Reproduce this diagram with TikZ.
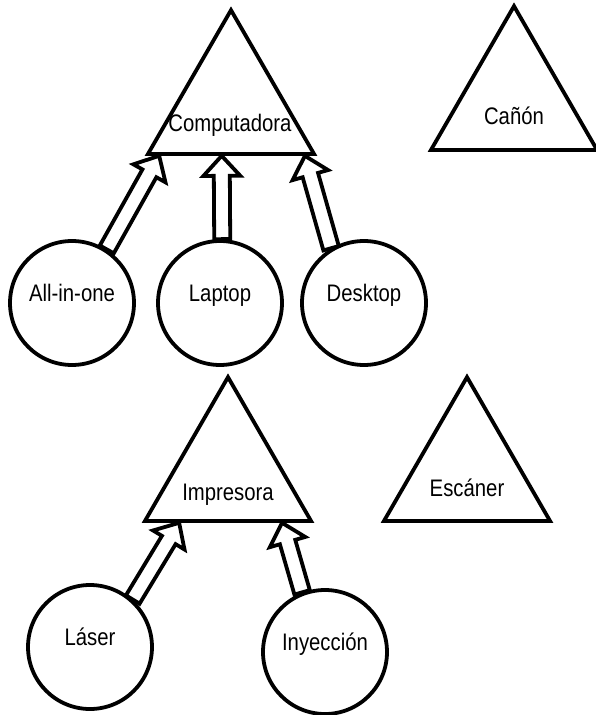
\documentclass[tikz,border=0pt]{standalone}
\usepackage{fontspec}
\setmainfont{Liberation Sans}[FakeStretch=0.85]
\usetikzlibrary{shapes.geometric,calc}

% medidas de las flechas huecas
\def\semiasta{0.2cm}
\def\semipunta{0.46cm}
\def\largopunta{0.5cm}

\tikzset{
    triangulo/.style={draw, regular polygon, regular polygon sides=3,
        minimum size=191.7*0.025cm, inner sep=0pt, line width=2.7pt},
    circulo/.style={draw, circle, minimum size=124*0.025cm, line width=2.7pt,
        text height=0.7em, text depth=0.9em, font=\fontsize{17pt}{20pt}\selectfont},
    texto/.style={anchor=base, inner sep=0pt, font=\fontsize{17pt}{20pt}\selectfont},
    flecha/.style={draw, fill=white, line width=2.7pt, line join=miter,
        to path={let \p1=(\tikztostart), \p2=(\tikztotarget),
            \n1={atan2(\y2-\y1,\x2-\x1)}, \n2={veclen(\x2-\x1,\y2-\y1)} in
            (\p1) -- ++(\n1+90:\semiasta) -- ++(\n1:\n2-\largopunta)
            -- ++(\n1+90:\semipunta-\semiasta) -- (\p2)
            -- ($(\p1)+(\n1:\n2-\largopunta)+(\n1-90:\semipunta)$)
            -- ++(\n1+90:\semipunta-\semiasta)
            -- ($(\p1)+(\n1-90:\semiasta)$) -- cycle}}
}

\begin{document}
\begin{tikzpicture}[x=0.025cm, y=-0.025cm]
    \useasboundingbox (0,0) rectangle (595,715);

    % Draw the triangles
    \node[triangulo] (comp) at (231,106) {};
    \node[triangulo] (canon) at (514,102) {};
    \node[triangulo] (impr) at (228,473) {};
    \node[triangulo] (esc) at (467,473) {};

    % Label the triangles
    \node[texto] (tcomp) at (230,132) {Computadora};
    \node[texto] (tcanon) at (514,125) {Cañón};
    \node[texto] (timpr) at (228,500) {Impresora};
    \node[texto] (tesc) at (467,496) {Escáner};

    % Draw the circles
    \foreach \nom/\x/\y/\txt in {allinone/72/303/All-in-one, laptop/220/303/Laptop,
        desktop/364/303/Desktop, laser/90/647/Láser, inyec/325/652/Inyección} {
        \node[circulo] (\nom) at (\x,\y) {\txt};
    }

    % Hollow arrows up to the triangles
    \draw[flecha] (allinone.57) to ($(comp.corner 2)!0.084!(comp.corner 3)$);
    \draw[flecha] (laptop.88) to ($(comp.corner 2)!0.446!(comp.corner 3)$);
    \draw[flecha] (desktop.121) to ($(comp.corner 2)!0.928!(comp.corner 3)$);
    \draw[flecha] (laser.48) to ($(impr.corner 2)!0.217!(impr.corner 3)$);
    \draw[flecha] (inyec.111) to ($(impr.corner 2)!0.813!(impr.corner 3)$);
\end{tikzpicture}
\end{document}
